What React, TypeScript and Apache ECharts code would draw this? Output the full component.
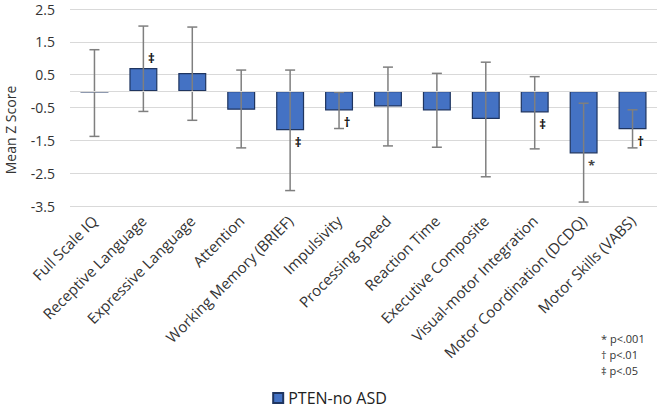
import React, { useEffect, useRef } from "react";
import * as echarts from "echarts";

const categories = [
  "Full Scale IQ",
  "Receptive Language",
  "Expressive Language",
  "Attention",
  "Working Memory (BRIEF)",
  "Impulsivity",
  "Processing Speed",
  "Reaction Time",
  "Executive Composite",
  "Visual-motor Integration",
  "Motor Coordination (DCDQ)",
  "Motor Skills (VABS)",
];
const means = [-0.04, 0.7, 0.55, -0.57, -1.19, -0.59, -0.47, -0.59, -0.85, -0.65, -1.9, -1.16];
const errUpper = [1.26, 1.98, 1.95, 0.64, 0.64, -0.04, 0.73, 0.54, 0.88, 0.44, -0.37, -0.57];
const errLower = [-1.38, -0.62, -0.89, -1.73, -3.03, -1.14, -1.67, -1.71, -2.61, -1.76, -3.38, -1.73];
const sigMarks = ["", "‡", "", "", "‡", "†", "", "", "", "‡", "*", "†"];
const yTicks = [-3.5, -2.5, -1.5, -0.5, 0.5, 1.5, 2.5];
const seriesName = "PTEN-no ASD";
const footnotes = ["* p<.001", "† p<.01", "‡ p<.05"];

const FONT = "'Open Sans', 'Liberation Sans', sans-serif";

export default function App() {
  const ref = useRef<HTMLDivElement>(null);
  useEffect(() => {
    if (!ref.current) return;
    const chart = echarts.init(ref.current, null, { renderer: "svg" });
    const option: any = {
      animation: false,
      backgroundColor: "#ffffff",
      grid: { left: 70, right: 2, top: 9, bottom: 203, containLabel: false },
      legend: {
        data: [{ name: seriesName, icon: "rect" }],
        top: 390,
        left: "center",
        padding: 0,
        itemWidth: 10,
        itemHeight: 10,
        itemGap: 6,
        textStyle: { fontFamily: FONT, fontSize: 16, lineHeight: 16, color: "#222" },
      },
      xAxis: {
        type: "category",
        data: categories,
        axisLine: { show: false },
        axisTick: { show: false },
        axisLabel: {
          rotate: 45,
          interval: 0,
          margin: 12,
          fontFamily: FONT,
          fontSize: 15,
          color: "#333",
        },
      },
      yAxis: {
        type: "value",
        min: yTicks[0],
        max: yTicks[yTicks.length - 1],
        interval: 1,
        axisLine: { show: false },
        axisTick: { show: false },
        splitLine: { lineStyle: { color: "#d9d9d9", width: 1 } },
        axisLabel: {
          margin: 15,
          fontFamily: FONT,
          fontSize: 14,
          lineHeight: 14,
          color: "#333",
          formatter: (v: number) => v.toFixed(1),
        },
      },
      series: [
        {
          name: seriesName,
          type: "bar",
          data: means,
          barWidth: 28,
          itemStyle: { color: "#4472C4", borderColor: "#1f3560", borderWidth: 1.2 },
          markLine: {
            silent: true,
            symbol: "none",
            label: { show: false },
            lineStyle: { color: "#d9d9d9", type: "solid", width: 1 },
            data: [{ yAxis: 0 }],
          },
          z: 2,
        },
        {
          name: "err",
          type: "custom",
          data: categories.map((_, i) => [i, errUpper[i], errLower[i]]),
          renderItem: (params: any, api: any) => {
            const i = api.value(0);
            const top = api.coord([i, api.value(1)]);
            const bot = api.coord([i, api.value(2)]);
            const h = 5;
            const st = { stroke: "#7f7f7f", lineWidth: 1.5 };
            return {
              type: "group",
              children: [
                { type: "line", shape: { x1: top[0], y1: top[1], x2: bot[0], y2: bot[1] }, style: st },
                { type: "line", shape: { x1: top[0] - h, y1: top[1], x2: top[0] + h, y2: top[1] }, style: st },
                { type: "line", shape: { x1: bot[0] - h, y1: bot[1], x2: bot[0] + h, y2: bot[1] }, style: st },
              ],
            };
          },
          z: 3,
        },
        {
          name: "sig",
          type: "custom",
          data: categories.map((_, i) => [i, means[i]]),
          renderItem: (params: any, api: any) => {
            const i = api.value(0);
            const v = api.value(1);
            const mark = sigMarks[i];
            if (!mark) return null;
            const p = api.coord([i, v]);
            return {
              type: "text",
              x: p[0] + 8,
              y: v >= 0 ? p[1] - 10 : p[1] + 12,
              style: {
                text: mark,
                fontFamily: FONT,
                fontSize: 13,
                fontWeight: "bold",
                fill: mark === "*" ? "#444" : "#111",
                align: "center",
                verticalAlign: "middle",
              },
            };
          },
          z: 4,
        },
      ],
      graphic: [
        {
          type: "text",
          x: 10,
          y: 130,
          rotation: Math.PI / 2,
          style: {
            text: "Mean Z Score",
            fontFamily: FONT,
            fontSize: 14,
            fill: "#333",
            align: "center",
            verticalAlign: "middle",
          },
        },
        ...footnotes.map((t, k) => ({
          type: "text",
          left: 601,
          top: 333 + k * 16,
          style: { text: t, fontFamily: FONT, fontSize: 11, fill: "#333" },
        })),
      ],
    };
    chart.setOption(option);
    return () => chart.dispose();
  }, []);
  return <div ref={ref} style={{ width: 659, height: 409, position: "absolute", left: 0, top: 0 }} />;
}
